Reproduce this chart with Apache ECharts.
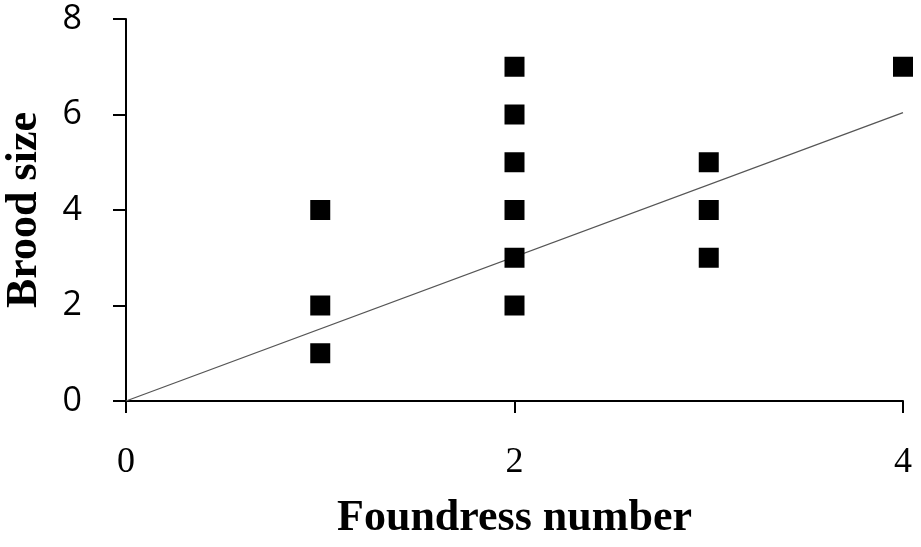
<!DOCTYPE html>
<html><head><meta charset="utf-8">
<script src="https://cdn.jsdelivr.net/npm/echarts@6/dist/echarts.min.js"></script>
<style>html,body{margin:0;padding:0;background:#fff}#c{width:921px;height:547px}</style>
</head><body><div id="c"></div>
<script>
const foundress = [1, 1, 1, 2, 2, 2, 2, 2, 2, 3, 3, 3, 4];
const brood     = [4, 2, 1, 7, 6, 5, 4, 3, 2, 5, 4, 3, 7];
const trendX = [0, 4];
const trendY = [0, 6.04];
const xTicks = [0, 2, 4];
const yTicks = [0, 2, 4, 6, 8];

const chart = echarts.init(document.getElementById('c'));
chart.setOption({
  animation: false,
  backgroundColor: '#fff',
  grid: {left: 126, right: 18, top: 19, bottom: 146, containLabel: false, outerBoundsMode: 'none'},
  xAxis: {
    type: 'value', min: 0, max: 4, interval: 2,
    name: 'Foundress number', nameLocation: 'middle', nameGap: 96,
    nameTextStyle: {fontFamily: 'Liberation Serif', fontWeight: 'bold', fontSize: 44, color: '#000'},
    axisLine: {show: true, onZero: false, lineStyle: {color: '#000', width: 2}},
    axisTick: {show: true, length: 12, lineStyle: {color: '#000', width: 2}},
    axisLabel: {fontFamily: 'Liberation Serif', fontSize: 36, color: '#000', margin: 44,
      formatter: v => xTicks.includes(v) ? String(v) : ''},
    splitLine: {show: false}
  },
  yAxis: {
    type: 'value', min: 0, max: 8, interval: 2,
    name: 'Brood size', nameLocation: 'middle', nameGap: 79, nameRotate: 90,
    nameTextStyle: {fontFamily: 'Liberation Serif', fontWeight: 'bold', fontSize: 44, color: '#000'},
    axisLine: {show: true, onZero: false, lineStyle: {color: '#000', width: 2}},
    axisTick: {show: true, length: 13, lineStyle: {color: '#000', width: 2}},
    axisLabel: {fontFamily: 'Open Sans', fontSize: 34, color: '#000', margin: 44,
      formatter: v => yTicks.includes(v) ? String(v) : ''},
    splitLine: {show: false}
  },
  series: [
    {type: 'line', data: trendX.map((x, i) => [x, trendY[i]]), symbol: 'none',
     lineStyle: {color: '#555', width: 1.3}, z: 1},
    {type: 'scatter', data: foundress.map((x, i) => [x, brood[i]]), symbol: 'rect', symbolSize: 20,
     itemStyle: {color: '#000', opacity: 1}, z: 2}
  ]
});
</script></body></html>
